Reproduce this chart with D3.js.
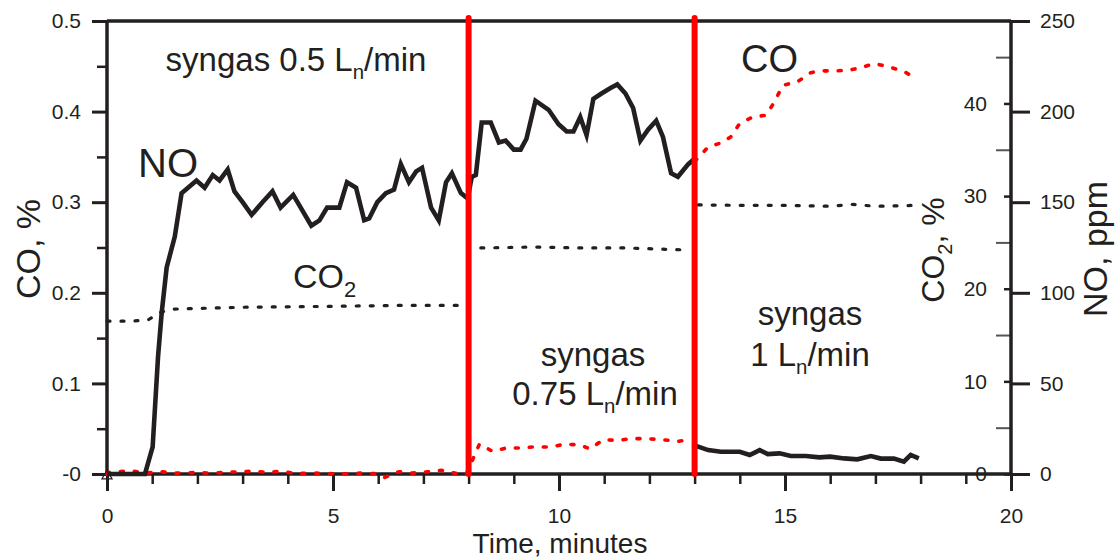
<!DOCTYPE html>
<html>
<head>
<meta charset="utf-8">
<script src="https://cdn.jsdelivr.net/npm/d3@7"></script>
<style>
  html, body { margin: 0; padding: 0; background: #fff; }
  svg { display: block; font-family: "Liberation Sans", Arial, sans-serif; }
</style>
</head>
<body>
<svg id="chart" width="1116" height="558"></svg>
<script>
// ---------------- data ----------------
const xTicks = [0, 5, 10, 15, 20];
const xMinorTicks = [1,2,3,4,6,7,8,9,11,12,13,14,16,17,18,19];
const coTicks = [0, 0.1, 0.2, 0.3, 0.4, 0.5];
const coTickLabels = ["-0", "0.1", "0.2", "0.3", "0.4", "0.5"];
const coMinorTicks = [0.05, 0.15, 0.25, 0.35, 0.45];
const co2Ticks = [0, 10, 20, 30, 40];
const co2MinorTicks = [5, 15, 25, 35, 45];
const noTicks = [0, 50, 100, 150, 200, 250];
const switchTimes = [8, 13];

// NO, ppm (solid) — first two flow stages
const noTimeA = [0, 0.84, 1.01, 1.13, 1.21, 1.32, 1.5, 1.65, 1.98, 2.16, 2.34, 2.49, 2.67, 2.82, 3.0, 3.2, 3.44, 3.66, 3.84, 4.12, 4.52, 4.7, 4.87, 5.14, 5.31, 5.51, 5.69, 5.8, 5.98, 6.17, 6.35, 6.5, 6.68, 6.84, 6.97, 7.17, 7.34, 7.5, 7.63, 7.83, 7.98,
  8.07, 8.16, 8.29, 8.49, 8.67, 8.82, 9.0, 9.15, 9.28, 9.48, 9.77, 9.99, 10.17, 10.32, 10.47, 10.61, 10.76, 10.94, 11.14, 11.29, 11.47, 11.64, 11.8, 11.97, 12.15, 12.3, 12.48, 12.63, 12.86, 13.0];
const noPpmA = [0, 0, 15, 65, 89, 114, 131, 155, 162, 158, 165, 162, 168, 156, 150, 143, 150, 156, 147, 154, 137, 140, 147, 147, 161, 158, 140, 141, 150, 155, 157, 171, 161, 167, 169, 147, 140, 161, 166, 155, 152,
  164, 165, 194, 194, 183, 184, 179, 179, 185, 206, 201, 193, 189, 189, 197, 187, 207, 210, 213, 215, 210, 202, 184, 190, 195, 186, 166, 164, 171, 174];
// NO, ppm (solid) — third stage
const noTimeB = [12.95, 13.08, 13.3, 13.58, 14.0, 14.22, 14.44, 14.62, 14.88, 15.13, 15.46, 15.76, 16.0, 16.31, 16.6, 16.9, 17.12, 17.41, 17.63, 17.78, 17.96];
const noPpmB = [16, 15.1, 13.2, 12.3, 12.3, 10.5, 13.2, 11.0, 11.4, 9.9, 9.9, 9.2, 9.6, 8.6, 8.1, 9.9, 8.5, 8.5, 6.8, 10.5, 8.6];

// CO, % (red dotted) — first two stages
const coTimeA = [0, 0.05, 0.56, 0.86, 1.19, 1.53, 1.9, 2.3, 2.7, 3.2, 3.55, 3.86, 4.2, 4.6, 5.2, 5.6, 5.95, 6.13, 6.46, 6.75, 7.1, 7.4, 7.7, 7.95,
  8.24, 8.53, 8.83, 9.13, 9.46, 9.8, 10.14, 10.47, 10.69, 10.98, 11.3, 11.58, 11.92, 12.26, 12.63, 12.92];
const coPctA = [0, 0.002, 0.0034, 0.001, 0.0025, 0.001, 0.0015, 0.001, 0.002, 0.003, 0.002, 0.003, 0.0005, 0.001, 0, 0.001, 0.0005, -0.004, 0.0025, 0.001, 0.0025, 0.004, 0.001, 0,
  0.033, 0.025, 0.0287, 0.0287, 0.030, 0.0297, 0.033, 0.032, 0.0276, 0.038, 0.037, 0.039, 0.039, 0.038, 0.036, 0.038];
// CO, % (red dotted) — third stage
const coTimeB = [13.0, 13.08, 13.3, 13.56, 13.8, 14.0, 14.29, 14.58, 14.77, 14.95, 15.28, 15.57, 15.79, 16.16, 16.45, 16.71, 16.98, 17.33, 17.64, 17.9];
const coPctB = [0.345, 0.349, 0.361, 0.365, 0.372, 0.387, 0.394, 0.396, 0.411, 0.429, 0.433, 0.443, 0.445, 0.445, 0.446, 0.449, 0.453, 0.449, 0.444, 0.437];

// CO2, % (black dotted) — three stages
const co2Time1 = [0, 0.5, 0.9, 1.15, 1.45, 3, 5, 6.5, 8.0];
const co2Pct1 = [16.5, 16.5, 16.6, 17.4, 17.8, 18.0, 18.1, 18.2, 18.2];
const co2Time2 = [8.27, 9.5, 10.5, 11.5, 12.7];
const co2Pct2 = [24.4, 24.5, 24.4, 24.4, 24.2];
const co2Time3 = [13.08, 14.0, 15.0, 16.0, 16.5, 17.0, 17.9];
const co2Pct3 = [29.05, 29.0, 29.0, 28.9, 29.1, 28.9, 29.0];

// ---------------- drawing ----------------
const INK = "#231f20";
const RED = "#ff0000";
const svg = d3.select("#chart");

const x = d3.scaleLinear().domain([0, 20]).range([107, 1011]);
const yCO = d3.scaleLinear().domain([0, 0.5]).range([474, 21]);
const yNO = d3.scaleLinear().domain([0, 250]).range([474, 21]);
const yCO2 = d3.scaleLinear().domain([0, 48.9]).range([474, 21]);

function styleAxis(g, color, width) {
  g.selectAll(".domain").remove();
  g.selectAll(".tick line").attr("stroke", color).attr("stroke-width", width);
  g.selectAll(".tick text").attr("fill", INK).attr("font-size", 21)
    .attr("font-family", '"Liberation Sans", Arial, sans-serif');
}

// minor ticks first
svg.append("g").attr("transform", "translate(0,474)")
  .call(d3.axisBottom(x).tickValues(xMinorTicks).tickSize(10).tickFormat(""))
  .call(g => styleAxis(g, INK, 2.5));
svg.append("g").attr("transform", "translate(107,0)")
  .call(d3.axisLeft(yCO).tickValues(coMinorTicks).tickSize(10).tickFormat(""))
  .call(g => styleAxis(g, INK, 2.5));
svg.append("g").attr("transform", "translate(1011,0)")
  .call(d3.axisLeft(yCO2).tickValues(co2MinorTicks).tickSize(15).tickFormat(""))
  .call(g => styleAxis(g, "#555", 2));

// major ticks
svg.append("g").attr("transform", "translate(0,474)")
  .call(d3.axisBottom(x).tickValues(xTicks).tickSize(17).tickPadding(17).tickFormat(d3.format("d")))
  .call(g => styleAxis(g, INK, 3));
svg.append("g").attr("transform", "translate(107,0)")
  .call(d3.axisLeft(yCO).tickValues(coTicks).tickSize(15).tickPadding(11).tickFormat((d, i) => coTickLabels[i]))
  .call(g => styleAxis(g, INK, 3));
svg.append("g").attr("transform", "translate(1011,0)")
  .call(d3.axisLeft(yCO2).tickValues(co2Ticks).tickSize(7).tickPadding(17).tickFormat(d3.format("d")))
  .call(g => styleAxis(g, INK, 2.5));
svg.append("g").attr("transform", "translate(1011,0)")
  .call(d3.axisRight(yNO).tickValues(noTicks).tickSize(19).tickPadding(10).tickFormat(d3.format("d")))
  .call(g => styleAxis(g, INK, 3));

// frame lines
const frame = svg.append("g").attr("stroke", INK).attr("stroke-width", 3.5).attr("fill", "none");
frame.append("line").attr("x1", x(0)).attr("x2", x(20)).attr("y1", yCO(0)).attr("y2", yCO(0));
frame.append("line").attr("x1", x(0)).attr("x2", x(20)).attr("y1", yCO(0.5)).attr("y2", yCO(0.5));
frame.append("line").attr("x1", x(0)).attr("x2", x(0)).attr("y1", yCO(0.5)).attr("y2", yCO(0));
frame.append("line").attr("x1", x(20)).attr("x2", x(20)).attr("y1", yCO(0.5)).attr("y2", yCO(0));

// series
const zip = (ts, vs) => ts.map((t, i) => [t, vs[i]]);
const lineCO = d3.line().x(d => x(d[0])).y(d => yCO(d[1]));
const lineNO = d3.line().x(d => x(d[0])).y(d => yNO(d[1]));
const lineCO2 = d3.line().x(d => x(d[0])).y(d => yCO2(d[1]));

[zip(co2Time1, co2Pct1), zip(co2Time2, co2Pct2), zip(co2Time3, co2Pct3)].forEach(seg => {
  svg.append("path").attr("d", lineCO2(seg)).attr("fill", "none")
    .attr("stroke", INK).attr("stroke-width", 3.2).attr("stroke-linecap", "round")
    .attr("stroke-dasharray", "3 11");
});

[zip(coTimeA, coPctA), zip(coTimeB, coPctB)].forEach(seg => {
  svg.append("path").attr("d", lineCO(seg)).attr("fill", "none")
    .attr("stroke", RED).attr("stroke-width", 3.6).attr("stroke-linecap", "round")
    .attr("stroke-dasharray", "3 11");
});

[zip(noTimeA, noPpmA), zip(noTimeB, noPpmB)].forEach(seg => {
  svg.append("path").attr("d", lineNO(seg)).attr("fill", "none")
    .attr("stroke", INK).attr("stroke-width", 4.6).attr("stroke-linejoin", "miter");
});

// stage switch lines
svg.selectAll("line.switch").data(switchTimes).enter().append("line")
  .attr("class", "switch")
  .attr("x1", d => x(d)).attr("x2", d => x(d))
  .attr("y1", yCO(0.5) - 3).attr("y2", yCO(0))
  .attr("stroke", RED).attr("stroke-width", 6).attr("stroke-linecap", "round");

// origin marker
svg.append("path").attr("d", d3.symbol(d3.symbolTriangle, 45)())
  .attr("transform", `translate(${x(0)},${yCO(0) + 2})`)
  .attr("fill", "none").attr("stroke", INK).attr("stroke-width", 1.2);

// annotations
function label(txt, cx, cy, size, anchor) {
  return svg.append("text").attr("x", cx).attr("y", cy).attr("font-size", size)
    .attr("fill", INK).attr("text-anchor", anchor || "middle").text(txt);
}
function flowLabel(prefix, cx, cy, size) {
  const t = svg.append("text").attr("x", cx).attr("y", cy).attr("font-size", size)
    .attr("fill", INK).attr("text-anchor", "middle");
  t.append("tspan").text(prefix + "L");
  t.append("tspan").attr("font-size", size * 0.62).attr("dy", 8).text("n");
  t.append("tspan").attr("dy", -8).text("/min");
  return t;
}
flowLabel("syngas 0.5 ", 296, 71, 33);
label("syngas", 593, 366, 33);
flowLabel("0.75 ", 595, 405, 33);
label("syngas", 810, 325, 33);
flowLabel("1 ", 810, 366, 33);
label("NO", 138, 177, 40, "start");
label("CO", 741, 72, 38, "start");
const co2t = svg.append("text").attr("x", 293).attr("y", 288).attr("font-size", 34)
  .attr("fill", INK).attr("text-anchor", "start");
co2t.append("tspan").text("CO");
co2t.append("tspan").attr("font-size", 22).attr("dy", 9).text("2");

// axis titles
svg.append("text").attr("transform", "translate(40,249) rotate(-90)")
  .attr("text-anchor", "middle").attr("font-size", 34).attr("fill", INK).text("CO, %");
const co2Title = svg.append("text").attr("transform", "translate(944,250) rotate(-90)")
  .attr("text-anchor", "middle").attr("font-size", 32).attr("fill", INK);
co2Title.append("tspan").text("CO");
co2Title.append("tspan").attr("font-size", 20).attr("dy", 8).text("2");
co2Title.append("tspan").attr("dy", -8).text(", %");
svg.append("text").attr("transform", "translate(1107,249) rotate(-90)")
  .attr("text-anchor", "middle").attr("font-size", 34).attr("fill", INK).text("NO, ppm");
svg.append("text").attr("x", 560).attr("y", 553)
  .attr("text-anchor", "middle").attr("font-size", 28).attr("fill", INK).text("Time, minutes");
</script>
</body>
</html>
